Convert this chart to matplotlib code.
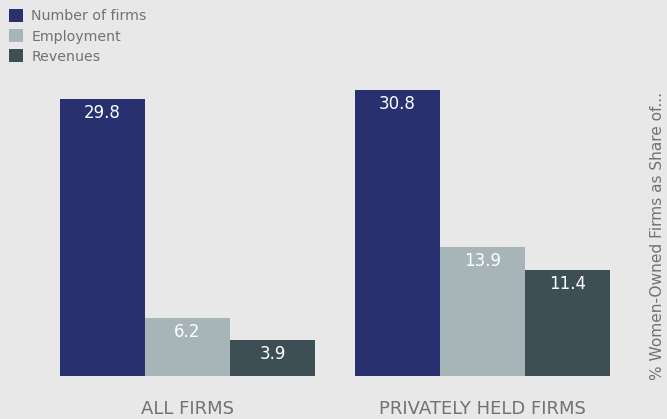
import matplotlib
matplotlib.use("Agg")
import matplotlib.pyplot as plt
import numpy as np

groups = ["ALL FIRMS", "PRIVATELY HELD FIRMS"]
series = ["Number of firms", "Employment", "Revenues"]
values = {
    "Number of firms": [29.8, 30.8],
    "Employment": [6.2, 13.9],
    "Revenues": [3.9, 11.4],
}
colors = ["#28306f", "#a7b5b8", "#3d4f54"]
bg = "#e7e8e7"
text_gray = "#727272"

fig = plt.figure(figsize=(6.67, 4.19), dpi=100, facecolor=bg)
ax = fig.add_axes([60 / 667, 43 / 419, 550 / 667, 297.6 / 419], facecolor=bg)

x = np.arange(len(groups))
width = 0.288
handles = []
for i, name in enumerate(series):
    bars = ax.bar(x + (i - 1) * width, values[name], width, color=colors[i], label=name)
    handles.append(bars)
    for b, v in zip(bars, values[name]):
        ax.text(b.get_x() + b.get_width() / 2, v - 0.55, f"{v:.1f}",
                ha="center", va="top", color="white", fontsize=12)

ax.set_xlim(-0.432, 1.432)
ax.set_ylim(0, 32)
ax.set_yticks([])
ax.set_xticks(x)
ax.set_xticklabels(groups, color=text_gray, fontsize=13)
ax.tick_params(axis="x", length=0, pad=17)
for s in ax.spines.values():
    s.set_visible(False)

fig.legend(handles=handles, labels=series, loc="upper left", bbox_to_anchor=(0.0, 1.0),
           frameon=False, fontsize=10.2, labelcolor=text_gray, handlelength=1.0,
           handleheight=1.0, handletextpad=0.55, labelspacing=0.42, borderaxespad=0.25)

fig.text(657 / 667, 1 - 236 / 419, "% Women-Owned Firms as Share of...", rotation=90,
         ha="center", va="center", color=text_gray, fontsize=11.1)

fig.savefig("out.png", dpi=100, facecolor=bg)
